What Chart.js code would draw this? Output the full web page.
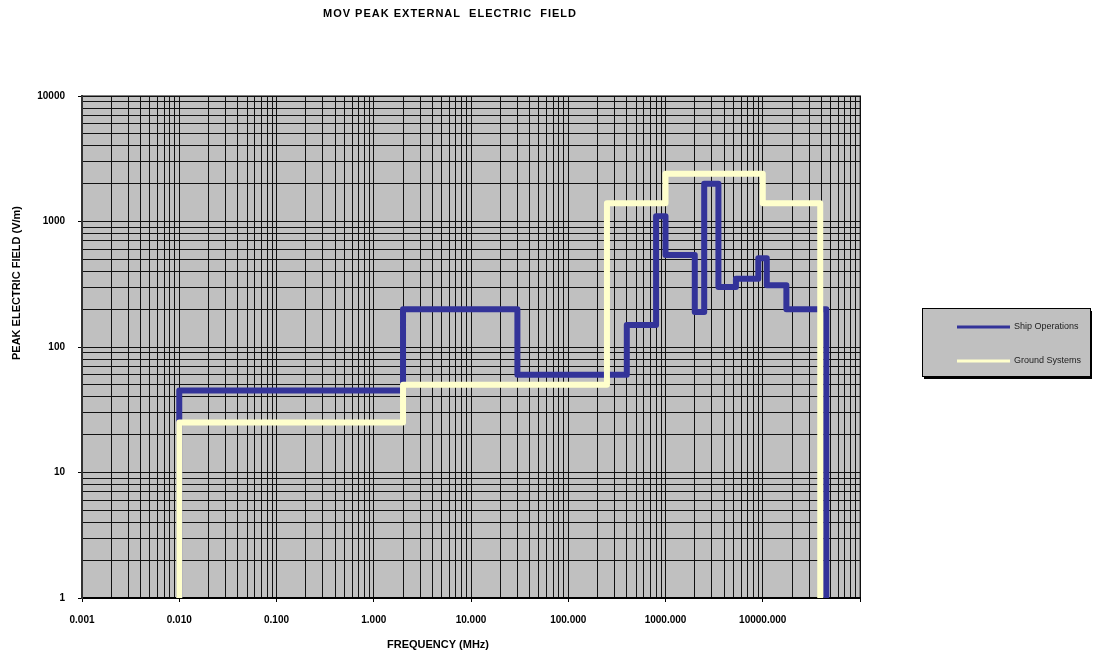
<!DOCTYPE html>
<html>
<head>
<meta charset="utf-8">
<script src="https://cdn.jsdelivr.net/npm/chart.js@4/dist/chart.umd.min.js"></script>
<style>
	html, body { margin: 0; padding: 0; background: #fff; }
	#wrap { width: 1093px; height: 657px; }
</style>
</head>
<body>
<div id="wrap"><canvas id="efield"></canvas></div>
<script>
// step breakpoints: from each frequency on, the level is the given field value
const shipFreq = [0.01, 0.01, 2, 30, 400, 800, 1000, 2000, 2500, 3500, 5300, 9000, 11000, 17500, 45000];
const shipField = [1, 45, 200, 60, 150, 1100, 540, 190, 2000, 300, 350, 510, 310, 200, 1];

const groundFreq = [0.01, 0.01, 2, 250, 1000, 10000, 39000];
const groundField = [1, 25, 50, 1400, 2400, 1400, 1];

const xTickValues = [0.001, 0.01, 0.1, 1, 10, 100, 1000, 10000];
const xTickLabels = ['0.001', '0.010', '0.100', '1.000', '10.000', '100.000', '1000.000', '10000.000'];
const yTickValues = [1, 10, 100, 1000, 10000];
const yTickLabels = ['1', '10', '100', '1000', '10000'];

const seriesNames = ['Ship Operations', 'Ground Systems'];
const chartTitle = 'MOV PEAK EXTERNAL  ELECTRIC  FIELD';
const xTitle = 'FREQUENCY (MHz)';
const yTitle = 'PEAK ELECTRIC FIELD (V/m)';

const BLUE = '#333399';
const YELLOW = '#FFFFCC';

const toPoints = (xs, ys) => xs.map((x, i) => ({ x: x, y: ys[i] }));

const isDecade = (v) => Math.abs(Math.log10(v) - Math.round(Math.log10(v))) < 1e-9;

const labelFor = (values, labels, v) => {
	const i = values.findIndex(t => Math.abs(Math.log10(t) - Math.log10(v)) < 1e-9);
	return i >= 0 ? labels[i] : '';
};

// 1..9 in every decade, for the log grid
const logTicks = (scale) => {
	const out = [];
	const e0 = Math.round(Math.log10(scale.min));
	const e1 = Math.round(Math.log10(scale.max));
	for (let e = e0; e <= e1; e++) {
		for (let m = 1; m <= 9; m++) {
			const v = Number((m * Math.pow(10, e)).toPrecision(6));
			if (v >= scale.min * 0.999999 && v <= scale.max * 1.000001) out.push({ value: v });
		}
	}
	scale.ticks = out;
};

const plotBg = {
	id: 'plotBg',
	beforeDraw(chart) {
		const { ctx, chartArea: a } = chart;
		ctx.save();
		ctx.fillStyle = '#c0c0c0';
		ctx.fillRect(a.left, a.top, a.right - a.left, a.bottom - a.top);
		ctx.strokeStyle = '#808080';
		ctx.lineWidth = 2;
		ctx.strokeRect(a.left, a.top, a.right - a.left, a.bottom - a.top);
		ctx.restore();
	},
};

const texts = {
	id: 'texts',
	afterDraw(chart) {
		const { ctx } = chart;
		ctx.save();
		ctx.fillStyle = '#000';
		ctx.textAlign = 'center';
		ctx.textBaseline = 'middle';
		ctx.font = 'bold 11px "Liberation Sans", Arial, sans-serif';
		ctx.letterSpacing = '1px';
		ctx.fillText(chartTitle, 450, 14);
		ctx.letterSpacing = '0px';
		ctx.font = 'bold 11px "Liberation Sans", Arial, sans-serif';
		ctx.fillText(xTitle, 438, 645);
		ctx.translate(17, 283);
		ctx.rotate(-Math.PI / 2);
		ctx.font = 'bold 11px "Liberation Sans", Arial, sans-serif';
		ctx.fillText(yTitle, 0, 0);
		ctx.restore();

		// legend box
		const bx = 922, by = 308, bw = 168, bh = 68;
		ctx.save();
		ctx.fillStyle = '#000';
		ctx.fillRect(bx + 2, by + 3, bw, bh);
		ctx.fillStyle = '#c0c0c0';
		ctx.fillRect(bx, by, bw, bh);
		ctx.strokeStyle = '#000';
		ctx.lineWidth = 1;
		ctx.strokeRect(bx + 0.5, by + 0.5, bw, bh);
		ctx.font = '9px "Liberation Sans", Arial, sans-serif';
		ctx.textAlign = 'left';
		ctx.textBaseline = 'middle';
		chart.data.datasets.forEach((ds, i) => {
			const ly = by + 19 + i * 34;
			ctx.strokeStyle = ds.borderColor;
			ctx.lineWidth = 3;
			ctx.beginPath();
			ctx.moveTo(bx + 35, ly);
			ctx.lineTo(bx + 88, ly);
			ctx.stroke();
			ctx.fillStyle = '#222';
			ctx.fillText(ds.label, bx + 92, ly);
		});
		ctx.restore();
	},
};

const gridColor = '#111';
const tickFont = { family: '"Liberation Sans", Arial, sans-serif', size: 10, weight: 'bold' };

new Chart(document.getElementById('efield').getContext('2d'), {
	type: 'line',
	data: {
		datasets: [
			{
				label: seriesNames[0],
				data: toPoints(shipFreq, shipField),
				borderColor: BLUE,
				backgroundColor: BLUE,
				borderWidth: 6,
				borderJoinStyle: 'round',
				stepped: 'before',
				pointRadius: 0,
				fill: false,
				order: 2,
			},
			{
				label: seriesNames[1],
				data: toPoints(groundFreq, groundField),
				borderColor: YELLOW,
				backgroundColor: YELLOW,
				borderWidth: 6,
				borderJoinStyle: 'round',
				stepped: 'before',
				pointRadius: 0,
				fill: false,
				order: 1,
			},
		],
	},
	options: {
		responsive: true,
		maintainAspectRatio: false,
		animation: false,
		layout: { padding: { left: 0, right: 233, top: 96, bottom: 0 } },
		plugins: {
			legend: { display: false },
			title: { display: false },
			tooltip: { enabled: false },
		},
		scales: {
			x: {
				type: 'logarithmic',
				min: 0.001,
				max: 100000,
				afterBuildTicks: logTicks,
				afterFit: (s) => { s.height = 59; },
				border: { color: '#000', width: 2 },
				grid: {
					color: gridColor,
					lineWidth: 1,
					tickLength: 4,
					tickColor: (c) => (c.tick && isDecade(c.tick.value) ? '#000' : 'rgba(0,0,0,0)'),
				},
				ticks: {
					autoSkip: false,
					maxRotation: 0,
					padding: 12,
					color: '#000',
					font: tickFont,
					callback: (v) => labelFor(xTickValues, xTickLabels, v),
				},
			},
			y: {
				type: 'logarithmic',
				min: 1,
				max: 10000,
				afterBuildTicks: logTicks,
				afterFit: (s) => { s.width = 82; },
				border: { color: '#333', width: 2 },
				grid: {
					color: gridColor,
					lineWidth: 1,
					tickLength: 4,
					tickColor: (c) => (c.tick && isDecade(c.tick.value) ? '#000' : 'rgba(0,0,0,0)'),
				},
				ticks: {
					autoSkip: false,
					padding: 13,
					color: '#000',
					font: tickFont,
					callback: (v) => labelFor(yTickValues, yTickLabels, v),
				},
			},
		},
	},
	plugins: [plotBg, texts],
});
</script>
</body>
</html>
